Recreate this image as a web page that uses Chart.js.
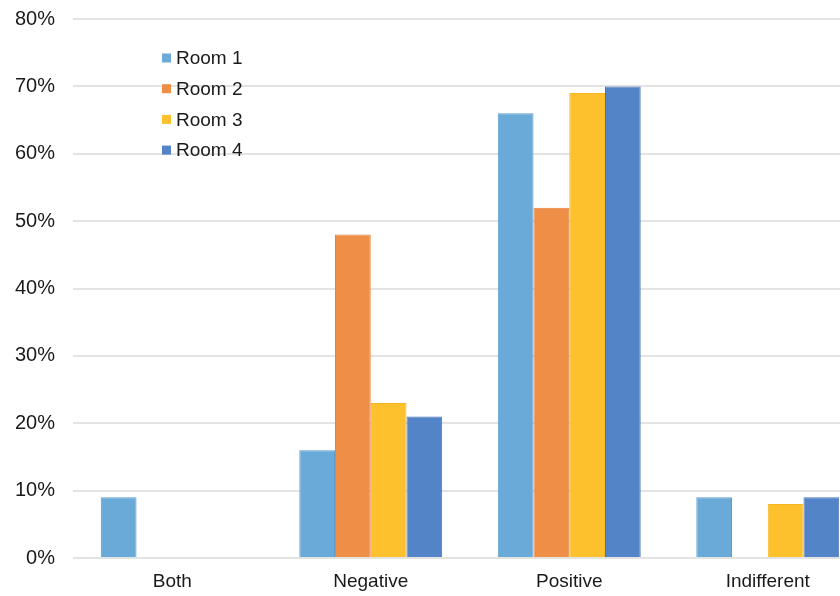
<!DOCTYPE html>
<html>
<head>
<meta charset="utf-8">
<script src="https://cdn.jsdelivr.net/npm/chart.js@4/dist/chart.umd.min.js"></script>
<style>
  html, body { margin: 0; padding: 0; background: #fff; overflow: hidden; }
  canvas { display: block; }
</style>
</head>
<body>
<canvas id="chart" width="870" height="596"></canvas>
<script>
// Share of responses per room, in percent
const categories = ['Both', 'Negative', 'Positive', 'Indifferent'];
const seriesNames = ['Room 1', 'Room 2', 'Room 3', 'Room 4'];
const room1 = [9, 16, 66, 9];
const room2 = [0, 48, 52, 0];
const room3 = [0, 23, 69, 8];
const room4 = [0, 21, 70, 9];
const yTicks = [0, 10, 20, 30, 40, 50, 60, 70, 80];

const fills = ['#6aaad9', '#ef8e46', '#fdc12e', '#5384c8'];
const edges = ['#5b9dd0', '#e8803a', '#f7b620', '#4676bd'];
const FONT = '"Liberation Sans", Arial, Helvetica, sans-serif';

const seriesValues = [room1, room2, room3, room4];
const datasets = seriesNames.map((name, i) => ({
  label: name,
  data: seriesValues[i],
  backgroundColor: fills[i],
  borderColor: edges[i],
  borderWidth: 1,
  borderSkipped: 'bottom',
  categoryPercentage: 0.72,
  barPercentage: 1.0
}));

// Legend drawn inside the plot area as a vertical list
const insideLegend = {
  id: 'insideLegend',
  afterDraw(chart) {
    const ctx = chart.ctx;
    const x0 = 162, y0 = 59, step = 30.7, box = 9;
    ctx.save();
    ctx.font = '19px ' + FONT;
    ctx.textBaseline = 'middle';
    ctx.textAlign = 'left';
    chart.data.datasets.forEach((ds, i) => {
      const y = y0 + i * step;
      ctx.fillStyle = ds.backgroundColor;
      ctx.fillRect(x0, y - box / 2 - 1, box, box);
      ctx.fillStyle = '#1a1a1a';
      ctx.fillText(ds.label, x0 + 14, y);
    });
    ctx.restore();
  }
};

new Chart(document.getElementById('chart'), {
  type: 'bar',
  data: { labels: categories, datasets },
  options: {
    responsive: false,
    animation: false,
    layout: { autoPadding: false, padding: { top: 19, right: 3, left: 0, bottom: 0 } },
    plugins: {
      legend: { display: false },
      tooltip: { enabled: false }
    },
    scales: {
      x: {
        grid: { display: false, drawTicks: false },
        border: { display: false },
        ticks: {
          color: '#1a1a1a',
          font: { family: FONT, size: 19 },
          padding: 12
        },
        afterFit(scale) { scale.height = 38; }
      },
      y: {
        min: 0,
        max: 80,
        afterBuildTicks(scale) { scale.ticks = yTicks.map(v => ({ value: v })); },
        grid: { color: '#e3e3e3', lineWidth: 2, drawTicks: false },
        border: { display: false },
        ticks: {
          color: '#1a1a1a',
          font: { family: FONT, size: 20 },
          padding: 18,
          callback: v => v + '%'
        },
        afterFit(scale) {
          scale.width = 73;
          scale.paddingTop = 0;
          scale.paddingBottom = 0;
        }
      }
    }
  },
  plugins: [insideLegend]
});
</script>
</body>
</html>
